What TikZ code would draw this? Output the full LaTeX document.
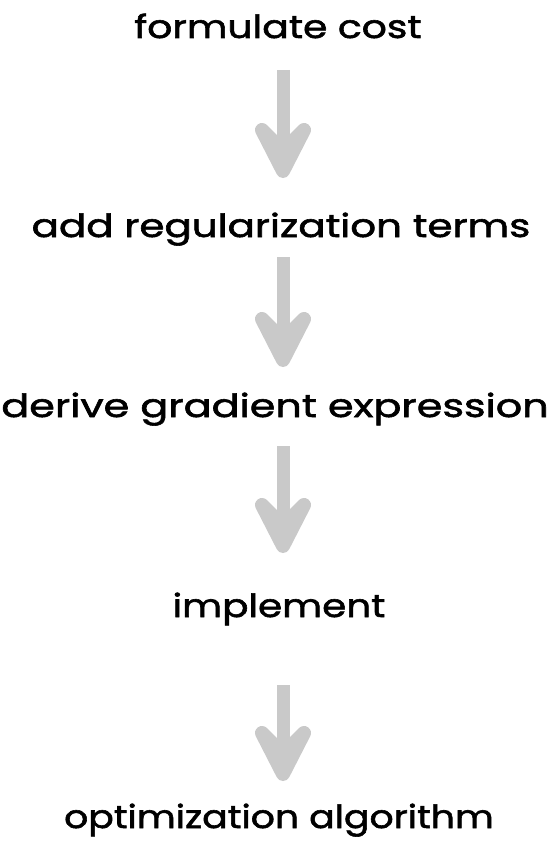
\documentclass[tikz,border=0pt]{standalone}
\usepackage{fontspec}
\usepackage{graphicx}
\setmainfont{Poppins}[FakeStretch=1.18, FakeBold=1.8]
\usetikzlibrary{calc}
\definecolor{arrowgray}{HTML}{C9C9C9}
\tikzset{
  label/.style={anchor=base, inner sep=0pt, font=\fontsize{32}{38}\selectfont, text=black},
  shaft/.style={draw=arrowgray, line width=13pt, line cap=butt},
  head/.style={draw=arrowgray, fill=arrowgray, line width=14pt, line cap=round, line join=round},
}
\newcommand{\grayarrow}[2]{%
  \draw[shaft] (#1) -- ($(#2)+(0,-8)$);
  \draw[head] ($(#2)+(-21,-41)$) -- (#2) -- ($(#2)+(21,-41)$) -- ($(#2)+(0,-20)$) -- cycle;
}
\begin{document}
\begin{tikzpicture}[x=1pt,y=-1pt]
\useasboundingbox (0,0) rectangle (550,851);
\node[label] (n1) at (278,38) {\scalebox{1.04}[1]{formulate cost}};
\node[label] (n2) at (281,237) {\scalebox{1.07}[1]{add regularization terms}};
\node[label] (n3) at (275,417) {\scalebox{1.095}[1]{derive gradient expression}};
\node[label] (n4) at (279,617) {\scalebox{1.03}[1]{implement}};
\node[label] (n5) at (279,828) {optimization algorithm};
\coordinate (t1) at (283,70);  \coordinate (v1) at (283,171);
\coordinate (t2) at (283,257); \coordinate (v2) at (283,360);
\coordinate (t3) at (283,446); \coordinate (v3) at (283,546);
\coordinate (t4) at (283,685); \coordinate (v4) at (283,774);
\grayarrow{t1}{v1}
\grayarrow{t2}{v2}
\grayarrow{t3}{v3}
\grayarrow{t4}{v4}
\end{tikzpicture}
\end{document}
